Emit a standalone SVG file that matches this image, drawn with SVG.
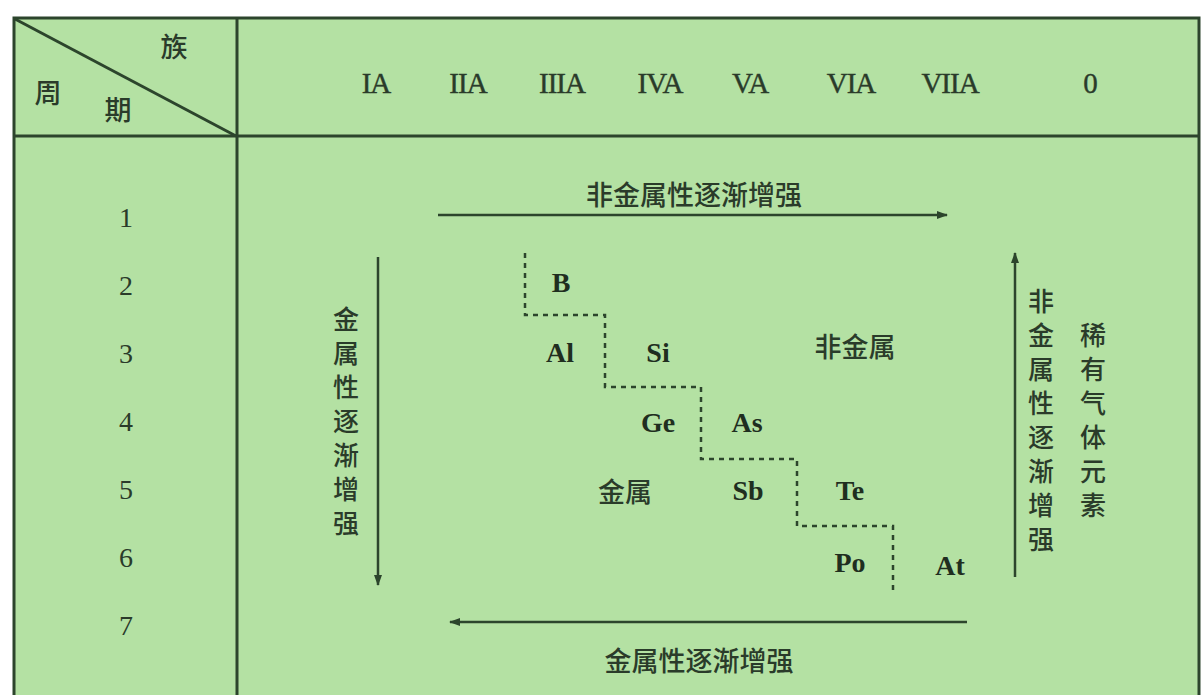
<svg xmlns="http://www.w3.org/2000/svg" width="1201" height="695" viewBox="0 0 1201 695">
<defs>
<marker id="ah" markerWidth="11" markerHeight="8" refX="10" refY="4" orient="auto" markerUnits="userSpaceOnUse">
<path d="M0,0 L11,4 L0,8 Z" fill="#2c452c"/>
</marker>
</defs>
<style>
.grid{stroke:#2c452c;fill:none;stroke-width:3}
.arrow{stroke:#2c452c;fill:none;stroke-width:2.5;marker-end:url(#ah)}
.dash{stroke:#2c452c;fill:none;stroke-width:2.5;stroke-dasharray:5 5}
.cn{font-family:"Noto Sans CJK SC",sans-serif;font-size:27px;font-weight:500;fill:#2a3b2a;text-anchor:middle;dominant-baseline:central}
.vcn{font-family:"Noto Sans CJK SC",sans-serif;font-size:26px;font-weight:500;fill:#2a3b2a;text-anchor:middle;dominant-baseline:central}
.num{font-family:"Liberation Serif",serif;font-size:28px;fill:#2a3b2a;text-anchor:middle}
.hd{font-family:"Liberation Serif",serif;font-size:29px;fill:#2a3b2a;text-anchor:middle;letter-spacing:-1px;stroke:#2a3b2a;stroke-width:0.4}
.el{font-family:"Liberation Serif",serif;font-size:28px;font-weight:bold;fill:#1f2e1f;text-anchor:middle}
</style>
<rect x="0" y="0" width="1201" height="695" fill="#ffffff"/>
<rect x="14" y="18" width="1185" height="690" fill="#b4e1a3"/>
<g id="table">
<rect class="grid" x="14" y="18" width="1185" height="690"/>
<line class="grid" x1="14" y1="136" x2="1199" y2="136"/>
<line class="grid" x1="237" y1="18" x2="237" y2="695"/>
<line class="grid" x1="15" y1="19" x2="236" y2="136"/>
</g>
<g id="corner">
<text class="cn" x="174" y="45">族</text>
<text class="cn" x="48" y="91">周</text>
<text class="cn" x="118" y="108">期</text>
</g>
<g id="groups">
<text class="hd" x="376" y="93">IA</text>
<text class="hd" x="468" y="93">IIA</text>
<text class="hd" x="562" y="93">IIIA</text>
<text class="hd" x="660" y="93">IVA</text>
<text class="hd" x="750" y="93">VA</text>
<text class="hd" x="851" y="93">VIA</text>
<text class="hd" x="950" y="93">VIIA</text>
<text class="hd" x="1090" y="93">0</text>
</g>
<g id="periods">
<text class="num" x="126" y="227">1</text>
<text class="num" x="126" y="295">2</text>
<text class="num" x="126" y="363">3</text>
<text class="num" x="126" y="431">4</text>
<text class="num" x="126" y="499">5</text>
<text class="num" x="126" y="567">6</text>
<text class="num" x="126" y="635">7</text>
</g>
<g id="connectors">
<line class="arrow" x1="438" y1="215" x2="947" y2="215"/>
<line class="arrow" x1="967" y1="622" x2="450" y2="622"/>
<line class="arrow" x1="378" y1="257" x2="378" y2="585"/>
<line class="arrow" x1="1015" y1="577" x2="1015" y2="253"/>
<path class="dash" d="M525,253 V315 H605 V387 H701 V459 H797 V526 H893 V595"/>
</g>
<g id="labels">
<text class="cn" x="694" y="193">非金属性逐渐增强</text>
<text class="cn" x="699" y="659">金属性逐渐增强</text>
<text class="vcn"><tspan x="346" y="317">金</tspan><tspan x="346" y="351">属</tspan><tspan x="346" y="385">性</tspan><tspan x="346" y="419">逐</tspan><tspan x="346" y="453">渐</tspan><tspan x="346" y="487">增</tspan><tspan x="346" y="521">强</tspan></text>
<text class="vcn"><tspan x="1041" y="299">非</tspan><tspan x="1041" y="333">金</tspan><tspan x="1041" y="367">属</tspan><tspan x="1041" y="401">性</tspan><tspan x="1041" y="435">逐</tspan><tspan x="1041" y="469">渐</tspan><tspan x="1041" y="503">增</tspan><tspan x="1041" y="537">强</tspan></text>
<text class="vcn"><tspan x="1093" y="333">稀</tspan><tspan x="1093" y="367">有</tspan><tspan x="1093" y="401">气</tspan><tspan x="1093" y="435">体</tspan><tspan x="1093" y="469">元</tspan><tspan x="1093" y="503">素</tspan></text>
<text class="cn" x="855" y="345">非金属</text>
<text class="cn" x="625" y="490">金属</text>
</g>
<g id="elements">
<text class="el" x="561" y="292">B</text>
<text class="el" x="560" y="362">Al</text>
<text class="el" x="658" y="362">Si</text>
<text class="el" x="658" y="432">Ge</text>
<text class="el" x="747" y="432">As</text>
<text class="el" x="748" y="500">Sb</text>
<text class="el" x="850" y="500">Te</text>
<text class="el" x="850" y="572">Po</text>
<text class="el" x="950" y="575">At</text>
</g>
</svg>
